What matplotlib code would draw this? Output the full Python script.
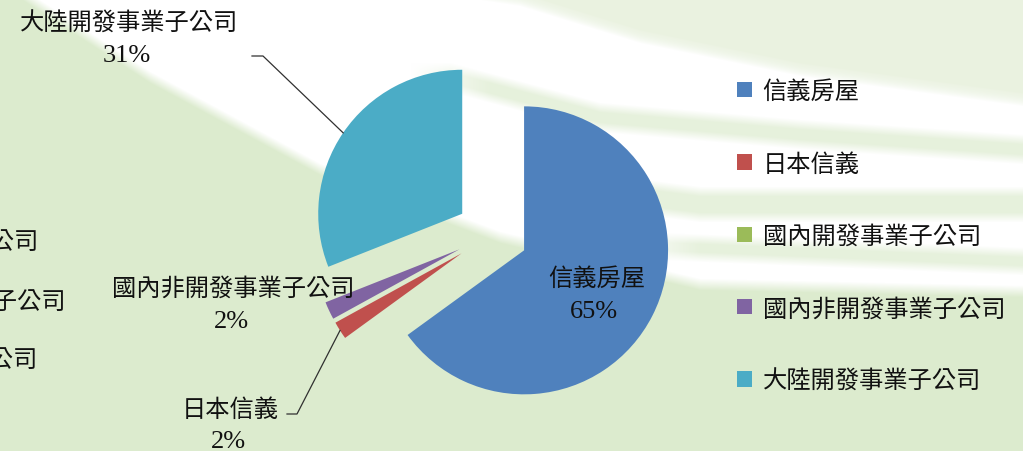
import numpy as np
import matplotlib
matplotlib.use("Agg")
import matplotlib.pyplot as plt

plt.rcParams['font.family'] = ['Noto Sans CJK TC', 'DejaVu Sans']

# ---------------- data ----------------
categories = ['信義房屋', '日本信義', '國內開發事業子公司', '國內非開發事業子公司', '大陸開發事業子公司']
shares = [65, 2, 0, 2, 31]
colors = ['#4F81BD', '#C0504D', '#9BBB59', '#8064A2', '#4BACC6']

# ---------------- layout (pixels, y from top) ----------------
W, H = 1023, 452
pie_center = (492, 235)
pie_radius = 144
explode_px = 36
# name position, pct position, leader elbow points (or None)
label_layout = {
    0: ((597, 279), (594, 312), None),
    1: ((230, 410), (228, 442), [(297, 415), (287, 415)]),
    3: ((233, 289), (231, 322), None),
    4: ((129, 24), (127, 56), [(263, 57), (252, 57)]),
}
# remains of another legend, cut by the left border (right edges)
cut_rows = [(2, 38, 242), (3, 65, 302), (4, 38, 361)]

CJK_SIZE = 17.5
PCT_SIZE = 19


def fy(y):
    return H - y


# ---------------- background ----------------
xs = np.arange(W)[None, :].astype(float)
ys = np.arange(H)[:, None].astype(float)


def soft(d, s):
    return np.clip(d / s + 0.5, 0, 1)


green = np.array([220, 235, 206]) / 255
pale = np.array([234, 242, 224]) / 255
img = np.ones((H, W, 3)) * green

U = np.interp(xs, [0, 520, 640, 800, 1023], [-80, 0, 37, 70, 100])
L = np.interp(xs, [0, 30, 150, 320, 500, 700, 1023], [-20, 0, 78, 170, 238, 285, 292])
pale_a = soft(U - ys, 10)[..., None]
img = img * (1 - pale_a) + pale * pale_a
band = soft(ys - U, 14) * soft(L - ys, 12)

stripes = [
    ([450, 600, 800, 1023], [78, 118, 135, 150], 10),
    ([580, 700, 1023], [190, 205, 205], 13),
    ([660, 1023], [247, 262], 9),
]
white = band.copy()
for sx, sy, hw in stripes:
    c = np.interp(xs, sx, sy)
    fade = soft(xs - sx[0], 80)
    g = soft(hw - np.abs(ys - c), 10) * fade
    white = white * (1 - 0.7 * g)
white = white[..., None]
img = img * (1 - white) + white

fig = plt.figure(figsize=(W / 100, H / 100), dpi=100)
ax = fig.add_axes([0, 0, 1, 1])
ax.imshow(img, extent=(0, W, 0, H), origin='upper', zorder=0, interpolation='bilinear')

# ---------------- pie ----------------
wedges, _ = ax.pie(shares, colors=colors, explode=[explode_px] * len(shares),
                   startangle=90, counterclock=False,
                   center=(pie_center[0], fy(pie_center[1])), radius=pie_radius,
                   wedgeprops=dict(linewidth=0))

for i, (name_xy, pct_xy, elbow) in label_layout.items():
    ax.text(name_xy[0], fy(name_xy[1]), categories[i], ha='center', va='center',
            fontsize=CJK_SIZE, color='#111111', zorder=5)
    ax.text(pct_xy[0], fy(pct_xy[1]), f'{shares[i]:.0f}%', ha='center', va='center',
            fontsize=PCT_SIZE, family=['Liberation Serif', 'DejaVu Serif'],
            color='#111111', zorder=5)
    if elbow:
        w = wedges[i]
        mid = np.deg2rad((w.theta1 + w.theta2) / 2)
        px = w.center[0] + w.r * np.cos(mid)
        py = w.center[1] + w.r * np.sin(mid)
        lx = [px] + [p[0] for p in elbow]
        ly = [py] + [fy(p[1]) for p in elbow]
        ax.plot(lx, ly, color='#303030', lw=0.9, zorder=4)

for i, xr, yc in cut_rows:
    ax.text(xr, fy(yc), categories[i], ha='right', va='center',
            fontsize=CJK_SIZE, color='#111111', zorder=5)

leg = ax.legend(wedges, categories, loc='upper left',
                bbox_to_anchor=(737 / W, 1 - 79 / H), frameon=False,
                fontsize=CJK_SIZE, handlelength=0.6, handleheight=0.6,
                handletextpad=0.45, labelspacing=1.91, borderpad=0,
                borderaxespad=0)
for t in leg.get_texts():
    t.set_color('#111111')

ax.set_xlim(0, W)
ax.set_ylim(0, H)
ax.set_aspect('equal')
ax.axis('off')

fig.savefig('out.png', dpi=100)
